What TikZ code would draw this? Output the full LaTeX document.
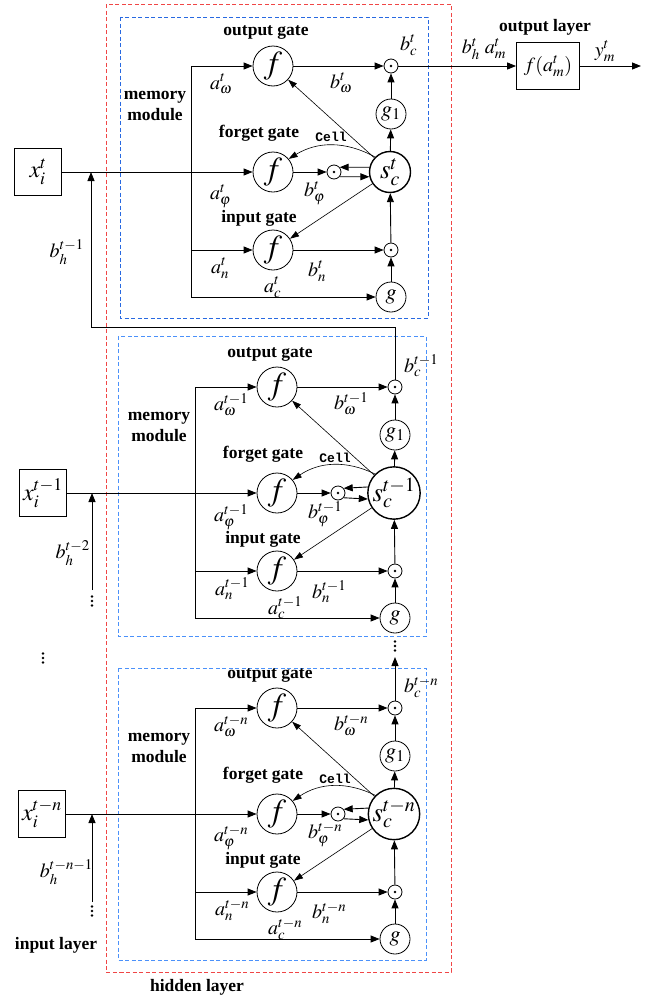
\documentclass[tikz,border=0pt]{standalone}
\usepackage{mathptmx}
\usepackage[no-math]{fontspec}
\setmainfont{Liberation Serif}
\setmonofont{Liberation Mono}
\usetikzlibrary{arrows.meta,calc}
\definecolor{hidred}{RGB}{240,70,70}
\definecolor{topblue}{RGB}{40,105,225}
\definecolor{modblue}{RGB}{75,145,250}
\newcommand\lstmmod[3]{%
\begin{scope}[shift={#2}]
 \node[gate] (#1fo) at (273,0) {$f$};
 \node[gate] (#1ff) at (273,106) {$f$};
 \node[gate] (#1fi) at (273,184) {$f$};
 \node[dotc] (#1mo) at (391,0) {};
 \node[dotc] (#1mf) at (334,106) {};
 \node[dotc] (#1mi) at (391,184) {};
 \node[gsmall] (#1ga) at (391,48) {$g_1$};
 \node[gsmall] (#1gg) at (391,231) {$g$};
 \node[cellc] (#1sc) at (390,106) {$s_c^{#3}$};
 \coordinate (#1vt) at (191,0);
 \coordinate (#1vi) at (191,184);
 \coordinate (#1vb) at (191,231);
 \draw[ln] (#1vt) -- (#1vb);
 \draw[arr] (#1vt) -- (#1fo);
 \draw[arr] (#1vi) -- (#1fi);
 \draw[arr] (#1vb) -- (#1gg);
 \draw[arr] (#1fo) -- (#1mo);
 \draw[arr] (#1ff) -- (#1mf);
 \draw[arr] (#1fi) -- (#1mi);
 \draw[arr] (#1sc.167) -- (#1mf.40);
 \draw[arr] (#1mf.-40) -- (#1sc.193);
 \draw[arr] (#1gg) -- (#1mi);
 \draw[arr] (#1mi) -- (#1sc);
 \draw[arr] (#1sc) -- (#1ga);
 \draw[arr] (#1ga) -- (#1mo);
 \draw[thinarr] (#1sc) -- (#1fo);
 \draw[thinarr] (#1sc) -- (#1fi);
 \draw[thinarr] (#1sc.135) to[bend right=30] (#1ff.40);
 \node[ttl] (#1tog) at (266,-33) {output gate};
 \node[ttl] (#1tmm) at (155,40) {memory\\module};
 \node[ttl] (#1tfg) at (259,67) {forget gate};
 \node[ttl] (#1tig) at (259,152) {input gate};
 \node[celltxt] (#1tce) at (331,71) {Cell};
 \node[lbl] (#1law) at (210,18) {$a_\omega^{#3}$};
 \node[lbl] (#1lbw) at (330,17) {$b_\omega^{#3}$};
 \node[lbl] (#1laf) at (210,130) {$a_\varphi^{#3}$};
 \node[lbl] (#1lbf) at (304,127) {$b_\varphi^{#3}$};
 \node[lbl] (#1lan) at (211,202) {$a_n^{#3}$};
 \node[lbl] (#1lbn) at (308,205) {$b_n^{#3}$};
 \node[lbl] (#1lac) at (264,221) {$a_c^{#3}$};
 \node[lbl] (#1lbc) at (400,-21) {$b_c^{#3}$};
\end{scope}}
\newcommand\vdts[3]{%
 \coordinate (#1) at (#2,#3);
 \foreach \dd in {-4.5,0,4.5} \fill ($(#1)+(0,\dd)$) circle (1.3pt);}
\begin{document}
\begin{tikzpicture}[x=1pt,y=-1pt,
  gate/.style={circle,draw,line width=0.8pt,minimum size=40pt,inner sep=0pt,font=\fontsize{32}{32}\selectfont},
  gsmall/.style={circle,draw,line width=0.8pt,minimum size=30pt,inner sep=0pt,font=\fontsize{22}{22}\selectfont},
  cellc/.style={circle,draw,line width=1.4pt,minimum size=41pt,inner sep=0pt,font=\fontsize{27}{27}\selectfont},
  dotc/.style={circle,draw,line width=0.8pt,minimum size=14pt,inner sep=0pt,
     path picture={\fill (path picture bounding box.center) circle (1.4pt);}},
  ln/.style={line width=0.9pt},
  arr/.style={line width=0.9pt,-{Triangle[length=9pt,width=7pt]}},
  thinarr/.style={line width=0.6pt,-{Triangle[length=9pt,width=6pt]}},
  lbl/.style={font=\fontsize{20}{20}\selectfont,inner sep=0pt,anchor=west},
  lble/.style={font=\fontsize{20}{20}\selectfont,inner sep=0pt,anchor=east},
  ttl/.style={font=\bfseries\fontsize{17.5}{21}\selectfont,align=center,inner sep=0pt},
  celltxt/.style={font=\ttfamily\bfseries\fontsize{13}{13}\selectfont,inner sep=0pt},
  inbox/.style={draw,line width=0.8pt,minimum width=47pt,minimum height=47pt,inner sep=0pt,font=\fontsize{24}{24}\selectfont},
  reddash/.style={draw=hidred,line width=0.9pt,dash pattern=on 4pt off 2.5pt},
  bluedash/.style={line width=0.9pt,dash pattern=on 4pt off 2.5pt}
]
\useasboundingbox (0,0) rectangle (648,996);
% frames
\draw[reddash] (106,4) rectangle (451,972);
\draw[bluedash,draw=topblue] (120,17) rectangle (428,318);
\draw[bluedash,draw=modblue] (118,336) rectangle (426,636);
\draw[bluedash,draw=modblue] (118,668) rectangle (426,960);
% modules
\lstmmod{A}{(0,66)}{t}
\lstmmod{B}{(4,387)}{t-1}
\lstmmod{C}{(4,708)}{t-n}
% inputs
\node[inbox] (xa) at (38,172) {$x_i^t$};
\node[inbox] (xb) at (43,493) {$x_i^{t-1}$};
\node[inbox] (xc) at (42,814) {$x_i^{t-n}$};
\draw[arr] (xa) -- (Aff);
\draw[arr] (xb) -- (Bff);
\draw[arr] (xc) -- (Cff);
% recurrent feedback
\coordinate (fb) at (91,327);
\draw[arr] (Bmo.north) |- (fb) -- (fb |- xa);
\node[lble] (bha) at (84,252) {$b_h^{t-1}$};
\coordinate (fbb) at (92,590);
\draw[arr] (fbb) -- (fbb |- xb);
\node[lble] (bhb) at (90,553) {$b_h^{t-2}$};
\vdts{dA}{92}{601}
\coordinate (fbc) at (92,902);
\draw[arr] (fbc) -- (fbc |- xc);
\node[lble] (bhc) at (93,872) {$b_h^{t-n-1}$};
\vdts{dB}{92}{911}
\vdts{dC}{43}{658}
% chain between modules
\coordinate (cup) at (395,657);
\draw[arr] (Cmo.north) -- (cup);
\vdts{dD}{395}{646}
% output layer
\node[inbox,minimum width=63pt,font=\fontsize{20}{20}\selectfont] (obox) at (548,66) {$f(a_m^t)$};
\coordinate (yend) at (641,66);
\draw[arr] (Amo) -- (obox);
\draw[arr] (obox) -- (yend);
\node[font=\fontsize{20}{20}\selectfont,inner sep=0pt] (lbh) at (484,49) {$b_h^t\ a_m^t$};
\node[font=\fontsize{20}{20}\selectfont,inner sep=0pt] (lym) at (605,51) {$y_m^t$};
\node[ttl] (tol) at (545,27) {output layer};
\node[ttl] (til) at (56,945) {input layer};
\node[ttl] (thl) at (197,987) {hidden layer};
\end{tikzpicture}
\end{document}
